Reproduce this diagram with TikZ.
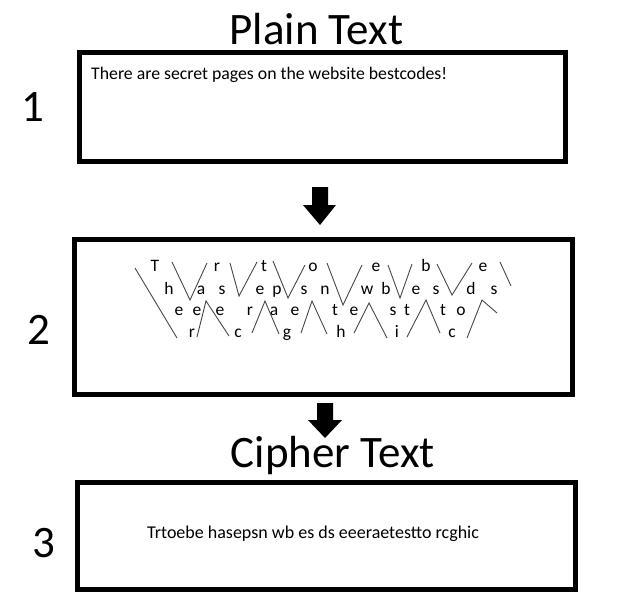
\documentclass[tikz,border=0pt]{standalone}
\usepackage{fontspec}
\setmainfont{Carlito}
\tikzset{
	box/.style={draw, line width=5pt, inner sep=0pt},
	title/.style={anchor=base, inner sep=0pt, font=\fontsize{45}{54}\selectfont},
	num/.style={anchor=base, inner sep=0pt, font=\fontsize{45}{54}\selectfont},
	msg/.style={anchor=base west, inner sep=0pt},
	letter/.style={anchor=base, inner sep=0pt, font=\fontsize{17.5}{20}\selectfont},
	zig/.style={line width=0.9pt, black!72},
}
\begin{document}
\begin{tikzpicture}[x=1pt,y=-1pt]
	\useasboundingbox (0,0) rectangle (620,595);
	\fill[white] (0,0) rectangle (620,595);
	% boxes and headings
	\node[title] (plainhead) at (316.5,44) {Plain Text};
	\node[title] (cipherhead) at (333,467) {Cipher Text};
	\node[num] (one) at (33,121) {1};
	\node[num] (two) at (39,344) {2};
	\node[num] (three) at (43.5,557) {3};
	\node[box, minimum width=485.5pt, minimum height=109pt] (plainbox) at (322.25,106.5) {};
	\node[box, minimum width=497.5pt, minimum height=155pt] (railbox) at (323.25,317) {};
	\node[box, minimum width=498pt, minimum height=107pt] (cipherbox) at (326,535.5) {};
	\node[msg, font=\fontsize{17.75}{21}\selectfont] (plaintext) at (91,79) {There are secret pages on the website bestcodes!};
	\node[msg, font=\fontsize{18}{22}\selectfont] (ciphertext) at (147,538) {Trtoebe hasepsn wb es ds eeeraetestto rcghic};
	% block arrows
	\fill (312,187) -- (328,187) -- (328,205) -- (336,205) -- (320,225) -- (303,205) -- (312,205) -- cycle;
	\fill (317,403) -- (333,403) -- (333,420) -- (342,420) -- (325,438) -- (308,420) -- (317,420) -- cycle;
	% rail one
	\node[letter] (a1) at (155,271) {T};
	\node[letter] (a2) at (217,271) {r};
	\node[letter] (a3) at (264,271) {t};
	\node[letter] (a4) at (313,271) {o};
	\node[letter] (a5) at (376,271) {e};
	\node[letter] (a6) at (426,271) {b};
	\node[letter] (a7) at (483,271) {e};
	% rail two
	\node[letter] (b1) at (169,294) {h};
	\node[letter] (b2) at (201,294) {a};
	\node[letter] (b3) at (222,294) {s};
	\node[letter] (b4) at (260,294) {e};
	\node[letter] (b5) at (277,294) {p};
	\node[letter] (b6) at (304,294) {s};
	\node[letter] (b7) at (325,294) {n};
	\node[letter] (b8) at (367,294) {w};
	\node[letter] (b9) at (386,294) {b};
	\node[letter] (b10) at (416,294) {e};
	\node[letter] (b11) at (436,294) {s};
	\node[letter] (b12) at (471,294) {d};
	\node[letter] (b13) at (494,294) {s};
	% rail three
	\node[letter] (c1) at (179,315) {e};
	\node[letter] (c2) at (197,315) {e};
	\node[letter] (c3) at (220,315) {e};
	\node[letter] (c4) at (250,315) {r};
	\node[letter] (c5) at (274,315) {a};
	\node[letter] (c6) at (295,315) {e};
	\node[letter] (c7) at (335,315) {t};
	\node[letter] (c8) at (354,315) {e};
	\node[letter] (c9) at (393,315) {s};
	\node[letter] (c10) at (407,315) {t};
	\node[letter] (c11) at (443,315) {t};
	\node[letter] (c12) at (461,315) {o};
	% rail four
	\node[letter] (d1) at (192,337) {r};
	\node[letter] (d2) at (238,337) {c};
	\node[letter] (d3) at (287,337) {g};
	\node[letter] (d4) at (341,337) {h};
	\node[letter] (d5) at (397,337) {i};
	\node[letter] (d6) at (452,337) {c};
	% zigzag strokes
	\draw[zig] (135,268) -- (177,338);
	\draw[zig] (172,262) -- (190,300) -- (207,263);
	\draw[zig] (230,263) -- (239,296) -- (257,262);
	\draw[zig] (273,261) -- (288,298) -- (305,265);
	\draw[zig] (327,263) -- (343,305) -- (362,265);
	\draw[zig] (388,265) -- (400,298) -- (412,264);
	\draw[zig] (437,264) -- (452,295) -- (472,263);
	\draw[zig] (500,262) -- (511,286);
	\draw[zig] (197,337) -- (206,301) -- (229,336);
	\draw[zig] (252,333) -- (265,301) -- (279,334);
	\draw[zig] (301,333) -- (312,301) -- (327,334);
	\draw[zig] (354,333) -- (369,303) -- (387,338);
	\draw[zig] (407,337) -- (426,300) -- (440,333);
	\draw[zig] (467,338) -- (482,300) -- (497,313);
\end{tikzpicture}
\end{document}
